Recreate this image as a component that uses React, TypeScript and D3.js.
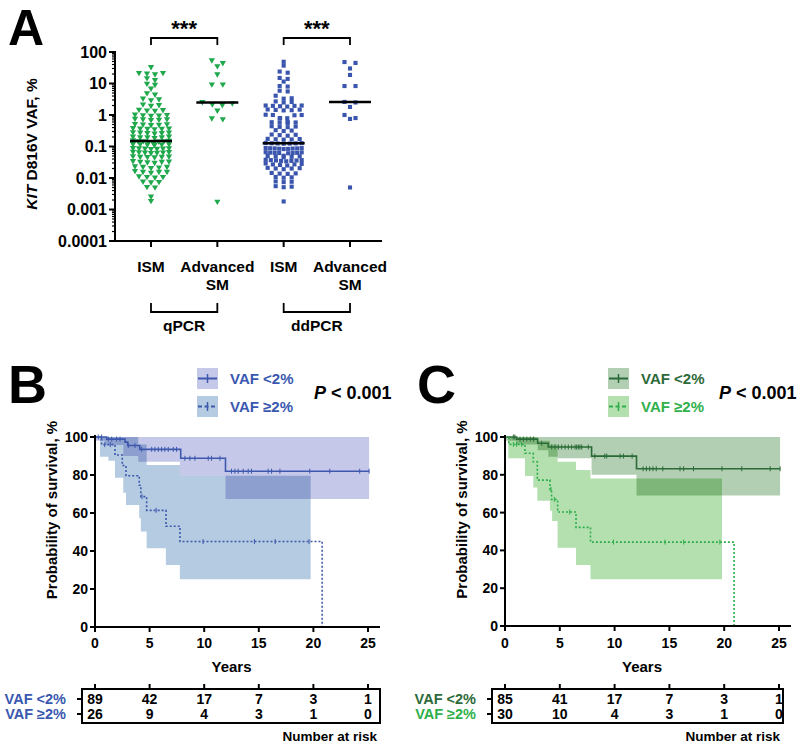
import React from "react";
import * as d3 from "d3";

// ---------- Panel A data ----------
const groupIds = ["qISM", "qASM", "dISM", "dASM"];
const groupLabels = [["ISM"], ["Advanced", "SM"], ["ISM"], ["Advanced", "SM"]];
const methodLabels = ["qPCR", "ddPCR"];
const yTicksA = [100, 10, 1, 0.1, 0.01, 0.001, 0.0001];
const yTickLabelsA = ["100", "10", "1", "0.1", "0.01", "0.001", "0.0001"];

const qpcrISM = [34, 22, 21, 22, 20, 15, 13, 10, 9.2, 7, 5, 4.5, 3.2, 3.0, 3.4, 2.1, 2.0, 2.2,
  1.5, 1.4, 1.45, 1.38, 1.0, 1.02, 0.96, 1.05, 0.98, 0.75, 0.72, 0.74, 0.7, 0.77,
  0.52, 0.5, 0.51, 0.53, 0.49, 0.38, 0.37, 0.39, 0.36, 0.38, 0.37,
  0.28, 0.27, 0.28, 0.26, 0.27, 0.29, 0.2, 0.21, 0.2, 0.19, 0.2, 0.21,
  0.15, 0.155, 0.15, 0.145, 0.15, 0.16, 0.14, 0.12, 0.118, 0.122, 0.115, 0.12, 0.125, 0.117,
  0.088, 0.086, 0.09, 0.087, 0.089, 0.085, 0.091, 0.066, 0.064, 0.068, 0.065, 0.067, 0.063, 0.069,
  0.048, 0.047, 0.049, 0.046, 0.05, 0.048, 0.033, 0.032, 0.034, 0.033, 0.031, 0.035,
  0.023, 0.022, 0.024, 0.023, 0.021, 0.016, 0.015, 0.017, 0.016, 0.016,
  0.011, 0.0105, 0.0115, 0.011, 0.0076, 0.0074, 0.0078, 0.0053, 0.0051, 0.0026, 0.0019];
const qpcrASM = [55, 45, 36, 20, 9.5, 9.5, 2.6, 2.4, 2.2, 2.1, 1.4, 0.8, 0.75, 0.0018];
const ddpcrISM = [49, 37, 24, 22, 15, 14, 11.5, 8.3, 8.0, 5.9, 5.6, 4.1, 3.4, 3.3, 2.6, 2.5, 2.7,
  1.95, 1.9, 2.0, 1.85, 1.95, 2.0, 1.45, 1.4, 1.5, 1.42, 1.48, 1.0, 0.98, 1.02, 1.0, 0.79, 0.8, 0.77,
  0.58, 0.57, 0.6, 0.56, 0.59, 0.43, 0.42, 0.44, 0.41, 0.32, 0.31, 0.33,
  0.23, 0.22, 0.24, 0.235, 0.17, 0.168, 0.172, 0.165, 0.175,
  0.126, 0.124, 0.128, 0.122, 0.13, 0.125, 0.127,
  0.087, 0.085, 0.089, 0.086, 0.088, 0.084, 0.09, 0.087, 0.083,
  0.063, 0.062, 0.064, 0.061, 0.065, 0.063, 0.062, 0.066, 0.048, 0.047, 0.049, 0.046, 0.05, 0.051,
  0.036, 0.035, 0.037, 0.036, 0.034, 0.038, 0.035, 0.037, 0.027, 0.026, 0.028, 0.027, 0.025, 0.029,
  0.02, 0.019, 0.021, 0.02, 0.0205, 0.014, 0.0135, 0.0145, 0.0138,
  0.0105, 0.0102, 0.0108, 0.0076, 0.0074, 0.0078, 0.0053, 0.0051, 0.0055, 0.0018];
const ddpcrASM = [48, 45, 30, 18.7, 8.3, 8.3, 2.6, 2.5, 1.8, 1.0, 0.8, 0.75, 0.005];
const groupValues = [qpcrISM, qpcrASM, ddpcrISM, ddpcrASM];

// ---------- KM data ----------
const years = [0, 5, 10, 15, 20, 25];
const yTicksKM = [0, 20, 40, 60, 80, 100];

// Panel B
const bLowT = [0, 1.07, 2.75, 3.0, 4.1, 7.85, 11.95, 25.1];
const bLowS = [100, 98.9, 97.3, 95.5, 93.5, 88.8, 82, 82];
const bHighT = [0, 0.6, 1.83, 2.5, 2.84, 4.05, 4.2, 4.73, 6.5, 7.78, 20.8];
const bHighS = [100, 96, 90.5, 85, 79.6, 74.6, 68.6, 61.4, 53, 45, 0];
const bLowCens = [0.3, 0.61, 1.22, 1.53, 1.98, 2.29, 3.05, 3.66, 4.27, 5.19, 5.49, 5.8, 6.1, 6.4, 6.71, 7.17, 7.47,
  8.23, 8.69, 9.15, 10.37, 10.67, 11.44, 12.5, 12.81, 13.11, 13.57, 14.03, 14.33, 15.86, 16.17, 16.93, 19.67, 21.5, 24.24, 25.1];
const bHighCens = [0.9, 1.4, 4.3, 5.6, 9.9, 14.6, 16.5, 19.6];
const bLowBandT = [0, 0.9, 2.6, 3.96, 7.77, 11.95, 25.1];
const bLowBandLo = [98, 95.8, 90, 87, 79.6, 67.4, 67.4];
const bLowBandHi = [100, 100, 100, 100, 100, 100, 100];
const bHighBandT = [0.46, 1.23, 1.83, 2.59, 2.84, 3.96, 4.05, 4.2, 4.73, 6.49, 7.77, 19.75];
const bHighBandLo = [89.6, 87.5, 78.6, 70.7, 64.2, 64.2, 57.2, 50.2, 41.4, 32.6, 25.1, 25.1];
const bHighBandHi = [100, 100, 100, 100, 100, 96, 96, 96, 85.3, 85.3, 79.6, 79.6];
const bRiskLow = [89, 42, 17, 7, 3, 1];
const bRiskHigh = [26, 9, 4, 3, 1, 0];

// Panel C
const cLowT = [0, 1.07, 2.98, 3.95, 7.9, 12.0, 25.1];
const cLowS = [100, 98.9, 96.7, 94.7, 89.9, 83.2, 83.2];
const cHighT = [0, 0.35, 1.82, 2.58, 2.95, 4.1, 4.25, 4.8, 6.48, 7.8, 20.9];
const cHighS = [100, 96.1, 91.4, 86.9, 77.2, 72.3, 67, 60.3, 52.2, 44.4, 0];
const cLowCens = [0.76, 0.9, 1.37, 1.68, 1.99, 2.3, 2.6, 3.35, 4.26, 4.56, 4.87, 5.17, 5.48, 5.78, 6.08, 6.39, 6.54,
  6.69, 6.84, 7.0, 7.6, 8.2, 9.1, 9.28, 10.5, 10.8, 11.6, 12.6, 12.9, 13.2, 13.5, 13.8, 14.4, 15.97, 16.3, 17.2, 19.8, 21.6, 24.2, 25.1];
const cHighCens = [0.76, 1.06, 1.52, 4.2, 4.5, 5.9, 9.9, 14.6, 16.3, 19.6];
const cLowBandT = [0, 1.0, 2.98, 3.95, 4.8, 7.9, 12.0, 25.1];
const cLowBandLo = [98, 96, 93, 89.5, 88.7, 80, 69, 69];
const cLowBandHi = [100, 100, 100, 100, 100, 100, 100, 100];
const cHighBandT = [0.3, 1.82, 2.58, 2.95, 4.1, 4.3, 4.8, 6.48, 7.8, 19.8];
const cHighBandLo = [88.7, 79.4, 73.3, 66.3, 61, 55.5, 41.4, 32.3, 24.7, 24.7];
const cHighBandHi = [100, 100, 100, 98, 96, 96, 86.9, 82.5, 78, 78];
const cRiskLow = [85, 41, 17, 7, 3, 1];
const cRiskHigh = [30, 10, 4, 3, 1, 0];

const FONT = "'Liberation Sans', Arial, Helvetica, sans-serif";

function swarm(values: number[], cx: number, y: (v: number) => number, step: number, maxHalf: number) {
  const pts = values.map((v) => ({ v, y: y(v) })).sort((a, b) => a.y - b.y);
  const rows: { v: number; y: number }[][] = [];
  let cur: { v: number; y: number }[] = [];
  let start = -1e9;
  for (const p of pts) {
    if (p.y - start > 3.6) {
      if (cur.length) rows.push(cur);
      cur = [p];
      start = p.y;
    } else cur.push(p);
  }
  if (cur.length) rows.push(cur);
  const out: { x: number; y: number }[] = [];
  for (const row of rows) {
    const n = row.length;
    const sp = n > 1 ? Math.min(step, (2 * maxHalf) / (n - 1)) : 0;
    const offs = d3.range(n).map((i) => (i - (n - 1) / 2) * sp).sort((a, b) => Math.abs(b) - Math.abs(a));
    const sorted = [...row].sort((a, b) => b.v - a.v);
    sorted.forEach((p, i) => out.push({ x: cx + offs[i], y: p.y }));
  }
  return out;
}

function stepValue(ts: number[], ss: number[], t: number) {
  const i = d3.bisectRight(ts, t) - 1;
  return ss[Math.max(0, Math.min(i, ss.length - 1))];
}

function PanelA() {
  const y = d3.scaleLog().domain([1e-4, 100]).range([241, 52]);
  const x = d3.scalePoint<string>().domain(groupIds).range([151, 350]);
  const triangle = d3.symbol().type(d3.symbolTriangle).size(17)();
  const square = d3.symbol().type(d3.symbolSquare).size(17)();
  const minor: number[] = [];
  for (let e = -4; e < 2; e++) for (let m = 2; m <= 9; m++) minor.push(m * Math.pow(10, e));
  const colors = ["#1fa84c", "#1fa84c", "#3a55ad", "#3a55ad"];
  return (
    <g>
      <text x={8} y={45} fontSize={50} fontWeight="bold" fontFamily={FONT}>A</text>
      {groupIds.map((g, gi) => {
        const isISM = gi % 2 === 0;
        const pts = swarm(groupValues[gi], x(g)!, (v) => y(v), isISM ? 8 : 11, isISM ? 18 : 15);
        const med = d3.median(groupValues[gi])!;
        return (
          <g key={g}>
            {pts.map((p, i) => (
              <path key={i} d={gi < 2 ? triangle! : square!} fill={colors[gi]}
                transform={`translate(${p.x},${p.y})${gi < 2 ? " rotate(180)" : ""}`} />
            ))}
            <line x1={x(g)! - 21} x2={x(g)! + 21} y1={y(med)} y2={y(med)} stroke="#000" strokeWidth={2.5} />
          </g>
        );
      })}
      {/* axes */}
      <line x1={115} x2={115} y1={51} y2={242} stroke="#000" strokeWidth={2} />
      <line x1={114} x2={382} y1={241} y2={241} stroke="#000" strokeWidth={2} />
      {yTicksA.map((t, i) => (
        <g key={t}>
          <line x1={109} x2={115} y1={y(t)} y2={y(t)} stroke="#000" strokeWidth={2} />
          <text x={107} y={y(t)} dy="0.36em" textAnchor="end" fontSize={16} fontWeight="bold" fontFamily={FONT}>{yTickLabelsA[i]}</text>
        </g>
      ))}
      {minor.map((t) => (
        <line key={t} x1={112} x2={115} y1={y(t)} y2={y(t)} stroke="#000" strokeWidth={1.2} />
      ))}
      {groupIds.map((g, gi) => (
        <g key={g}>
          <line x1={x(g)!} x2={x(g)!} y1={241} y2={247} stroke="#000" strokeWidth={2} />
          {groupLabels[gi].map((l, li) => (
            <text key={li} x={x(g)!} y={272 + li * 18} textAnchor="middle" fontSize={15.5} fontWeight="bold" fontFamily={FONT}>{l}</text>
          ))}
        </g>
      ))}
      {[0, 1].map((k) => {
        const x1 = x(groupIds[2 * k])!;
        const x2 = x(groupIds[2 * k + 1])!;
        return (
          <g key={k} stroke="#000" strokeWidth={1.8} fill="none">
            <path d={`M${x1},45V38H${x2}V45`} />
            <text x={(x1 + x2) / 2} y={36} textAnchor="middle" fontSize={22} fontWeight="bold" fontFamily={FONT} stroke="none" fill="#000">***</text>
            <path d={`M${x1},303V312H${x2}V303`} />
            <text x={(x1 + x2) / 2} y={331} textAnchor="middle" fontSize={15.5} fontWeight="bold" fontFamily={FONT} stroke="none" fill="#000">{methodLabels[k]}</text>
          </g>
        );
      })}
      <text transform="translate(37,144) rotate(-90)" textAnchor="middle" fontSize={15.5} fontWeight="bold" fontFamily={FONT}>
        <tspan fontStyle="italic">KIT</tspan> D816V VAF, %
      </text>
    </g>
  );
}

type KMProps = {
  letter: string; letterX: number;
  x0: number; x1: number; yTop: number; yBot: number;
  lowT: number[]; lowS: number[]; highT: number[]; highS: number[];
  lowCens: number[]; highCens: number[];
  lowBand: [number[], number[], number[]]; highBand: [number[], number[], number[]];
  lowBandColor: string; highBandColor: string; lowLine: string; highLine: string;
  lowText: string; highText: string;
  legendX: number; pX: number; yLabelX: number;
  riskLow: number[]; riskHigh: number[]; boxLeft: number; labelRight: number; boxRight: number;
};

function KMPanel(p: KMProps) {
  const x = d3.scaleLinear().domain([0, 25]).range([p.x0, p.x1]);
  const y = d3.scaleLinear().domain([0, 100]).range([p.yBot, p.yTop]);
  const line = d3.line<number>().curve(d3.curveStepAfter);
  const area = d3.area<number>().curve(d3.curveStepAfter);
  const band = (b: [number[], number[], number[]]) =>
    area.x((_, i) => x(b[0][i])).y0((_, i) => y(b[1][i])).y1((_, i) => y(b[2][i]))(b[0].map((_, i) => i))!;
  const kmLine = (ts: number[], ss: number[]) =>
    line.x((_, i) => x(ts[i])).y((_, i) => y(ss[i]))(ts.map((_, i) => i))!;
  const axisEnd = p.x1 + 12;
  const row1 = 699, row2 = 714, boxTop = 689, boxBot = 723;
  return (
    <g fontFamily={FONT}>
      <text x={p.letterX} y={403} fontSize={54} fontWeight="bold">{p.letter}</text>
      <g style={{ isolation: "isolate" }}>
        <path d={band(p.lowBand)} fill={p.lowBandColor} />
        <path d={band(p.highBand)} fill={p.highBandColor} style={{ mixBlendMode: "multiply" }} />
      </g>
      <path d={kmLine(p.lowT, p.lowS)} fill="none" stroke={p.lowLine} strokeWidth={1.6} />
      <path d={kmLine(p.highT, p.highS)} fill="none" stroke={p.highLine} strokeWidth={1.6} strokeDasharray="2,2" />
      {p.lowCens.map((t, i) => {
        const yy = y(stepValue(p.lowT, p.lowS, t));
        return <line key={"l" + i} x1={x(t)} x2={x(t)} y1={yy - 2.5} y2={yy + 2.5} stroke={p.lowLine} strokeWidth={1} />;
      })}
      {p.highCens.map((t, i) => {
        const yy = y(stepValue(p.highT, p.highS, t));
        return <line key={"h" + i} x1={x(t)} x2={x(t)} y1={yy - 2.5} y2={yy + 2.5} stroke={p.highLine} strokeWidth={1} />;
      })}
      {/* axes */}
      <line x1={p.x0} x2={p.x0} y1={p.yTop - 2} y2={p.yBot + 1} stroke="#000" strokeWidth={2} />
      <line x1={p.x0 - 1} x2={axisEnd} y1={p.yBot} y2={p.yBot} stroke="#000" strokeWidth={2} />
      {yTicksKM.map((t) => (
        <g key={t}>
          <line x1={p.x0 - 5} x2={p.x0} y1={y(t)} y2={y(t)} stroke="#000" strokeWidth={2} />
          <text x={p.x0 - 7} y={y(t)} dy="0.36em" textAnchor="end" fontSize={14} fontWeight="bold">{t}</text>
        </g>
      ))}
      {years.map((t) => (
        <g key={t}>
          <line x1={x(t)} x2={x(t)} y1={p.yBot} y2={p.yBot + 5} stroke="#000" strokeWidth={2} />
          <text x={x(t)} y={648} textAnchor="middle" fontSize={14} fontWeight="bold">{t}</text>
        </g>
      ))}
      <text x={(p.x0 + p.x1) / 2} y={672} textAnchor="middle" fontSize={15} fontWeight="bold">Years</text>
      <text transform={`translate(${p.yLabelX},${(p.yTop + p.yBot) / 2 - 22}) rotate(-90)`} textAnchor="middle" fontSize={15} fontWeight="bold">Probability of survival, %</text>
      {/* legend */}
      <rect x={p.legendX} y={368} width={21} height={21} fill={p.lowBandColor} />
      <rect x={p.legendX} y={396} width={21} height={21} fill={p.highBandColor} />
      <line x1={p.legendX + 1} x2={p.legendX + 20} y1={378.5} y2={378.5} stroke={p.lowLine} strokeWidth={2} />
      <line x1={p.legendX + 10.5} x2={p.legendX + 10.5} y1={374} y2={383} stroke={p.lowLine} strokeWidth={1.5} />
      <line x1={p.legendX + 1} x2={p.legendX + 20} y1={406.5} y2={406.5} stroke={p.highLine} strokeWidth={2} strokeDasharray="4,2.5" />
      <line x1={p.legendX + 10.5} x2={p.legendX + 10.5} y1={402} y2={411} stroke={p.highLine} strokeWidth={1.5} />
      <text x={p.legendX + 33} y={384} fontSize={15} fontWeight="bold" fill={p.lowText}>VAF &lt;2%</text>
      <text x={p.legendX + 33} y={412} fontSize={15} fontWeight="bold" fill={p.highText}>VAF ≥2%</text>
      <text x={p.pX} y={399} fontSize={18} fontWeight="bold"><tspan fontStyle="italic">P</tspan> &lt; 0.001</text>
      {/* risk table */}
      <rect x={p.boxLeft} y={boxTop} width={p.boxRight - p.boxLeft} height={boxBot - boxTop} fill="none" stroke="#000" strokeWidth={2} />
      {years.map((t, i) => (
        <g key={t}>
          <line x1={x(t)} x2={x(t)} y1={boxTop - 5} y2={boxTop} stroke="#000" strokeWidth={2} />
          <text x={x(t)} y={row1} dy="0.36em" textAnchor="middle" fontSize={14} fontWeight="bold">{p.riskLow[i]}</text>
          <text x={x(t)} y={row2} dy="0.36em" textAnchor="middle" fontSize={14} fontWeight="bold">{p.riskHigh[i]}</text>
        </g>
      ))}
      <line x1={p.boxLeft - 5} x2={p.boxLeft} y1={row1} y2={row1} stroke="#000" strokeWidth={2} />
      <line x1={p.boxLeft - 5} x2={p.boxLeft} y1={row2} y2={row2} stroke="#000" strokeWidth={2} />
      <text x={p.labelRight} y={row1} dy="0.36em" textAnchor="end" fontSize={14.5} fontWeight="bold" fill={p.lowText}>VAF &lt;2%</text>
      <text x={p.labelRight} y={row2} dy="0.36em" textAnchor="end" fontSize={14.5} fontWeight="bold" fill={p.highText}>VAF ≥2%</text>
      <text x={p.boxRight - 3} y={741} textAnchor="end" fontSize={13.5} fontWeight="bold">Number at risk</text>
    </g>
  );
}

export default function App() {
  return (
    <svg width={800} height={750} style={{ position: "absolute", left: 0, top: 0, background: "#fff" }}>
      <rect width={800} height={750} fill="#fff" />
      <PanelA />
      <KMPanel letter="B" letterX={8} x0={95} x1={368} yTop={437} yBot={627}
        lowT={bLowT} lowS={bLowS} highT={bHighT} highS={bHighS} lowCens={bLowCens} highCens={bHighCens}
        lowBand={[bLowBandT, bLowBandLo, bLowBandHi]} highBand={[bHighBandT, bHighBandLo, bHighBandHi]}
        lowBandColor="#c6c8ea" highBandColor="#b5cbe1" lowLine="#3d58ad" highLine="#3d58ad"
        lowText="#3a58b0" highText="#3a58b0" legendX={197} pX={314} yLabelX={57}
        riskLow={bRiskLow} riskHigh={bRiskHigh} boxLeft={82} labelRight={66} boxRight={380} />
      <KMPanel letter="C" letterX={417} x0={505} x1={779} yTop={437} yBot={626}
        lowT={cLowT} lowS={cLowS} highT={cHighT} highS={cHighS} lowCens={cLowCens} highCens={cHighCens}
        lowBand={[cLowBandT, cLowBandLo, cLowBandHi]} highBand={[cHighBandT, cHighBandLo, cHighBandHi]}
        lowBandColor="#b3cfb3" highBandColor="#b3e0ae" lowLine="#2a6b37" highLine="#2eae4c"
        lowText="#2d6a3a" highText="#2fb04b" legendX={608} pX={719} yLabelX={467}
        riskLow={cRiskLow} riskHigh={cRiskHigh} boxLeft={492} labelRight={476} boxRight={783} />
    </svg>
  );
}
